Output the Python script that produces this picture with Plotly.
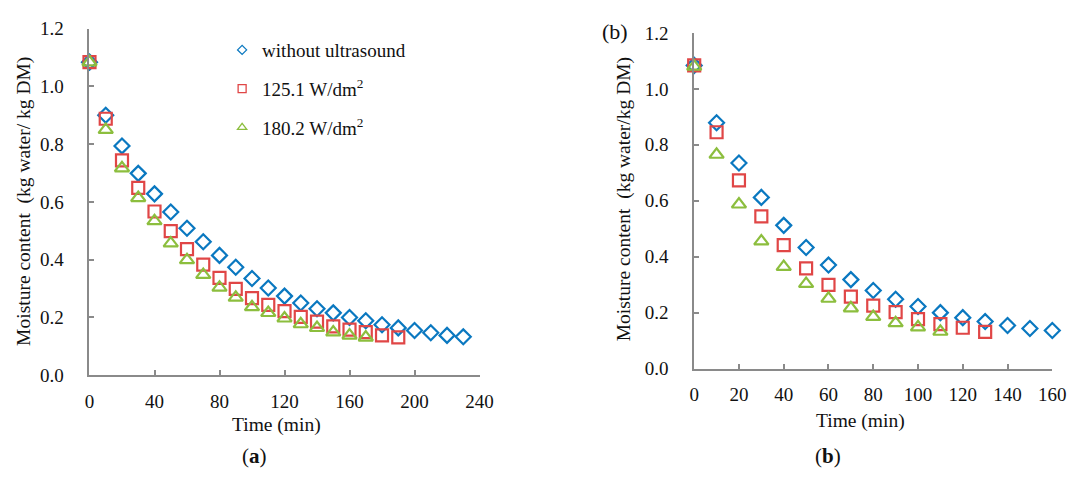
import plotly.graph_objects as go

W, H = 1083, 479

# ---- data (a) ----
t_a_blue = [0, 10, 20, 30, 40, 50, 60, 70, 80, 90, 100, 110, 120, 130, 140, 150, 160, 170, 180, 190, 200, 210, 220, 230]
mc_a_blue = [1.084, 0.900, 0.794, 0.699, 0.628, 0.565, 0.509, 0.462, 0.415, 0.374, 0.335, 0.302, 0.274, 0.250,
             0.230, 0.216, 0.200, 0.189, 0.175, 0.164, 0.155, 0.147, 0.138, 0.133]
t_a_red = [0, 10, 20, 30, 40, 50, 60, 70, 80, 90, 100, 110, 120, 130, 140, 150, 160, 170, 180, 190]
mc_a_red = [1.084, 0.888, 0.744, 0.649, 0.567, 0.499, 0.437, 0.383, 0.337, 0.299, 0.267, 0.244, 0.222, 0.202,
            0.186, 0.169, 0.158, 0.149, 0.138, 0.131]
t_a_green = [0, 10, 20, 30, 40, 50, 60, 70, 80, 90, 100, 110, 120, 130, 140, 150, 160, 170]
mc_a_green = [1.084, 0.850, 0.717, 0.614, 0.534, 0.457, 0.399, 0.348, 0.304, 0.269, 0.236, 0.216, 0.197, 0.177,
              0.164, 0.149, 0.138, 0.131]

# ---- data (b) ----
t_b_blue = [0, 10, 20, 30, 40, 50, 60, 70, 80, 90, 100, 110, 120, 130, 140, 150, 160]
mc_b_blue = [1.084, 0.879, 0.735, 0.612, 0.512, 0.433, 0.370, 0.318, 0.279, 0.248, 0.222, 0.200, 0.182, 0.168,
             0.154, 0.143, 0.136]
t_b_red = [0, 10, 20, 30, 40, 50, 60, 70, 80, 90, 100, 110, 120, 130]
mc_b_red = [1.084, 0.845, 0.673, 0.544, 0.441, 0.358, 0.299, 0.257, 0.225, 0.202, 0.177, 0.159, 0.146, 0.131]
t_b_green = [0, 10, 20, 30, 40, 50, 60, 70, 80, 90, 100, 110]
mc_b_green = [1.080, 0.765, 0.587, 0.455, 0.364, 0.303, 0.250, 0.216, 0.185, 0.163, 0.148, 0.132]

series_names = ["without ultrasound", "125.1 W/dm<sup>2</sup>", "180.2 W/dm<sup>2</sup>"]
y_ticks = [0.0, 0.2, 0.4, 0.6, 0.8, 1.0, 1.2]
x_ticks_a = [0, 40, 80, 120, 160, 200, 240]
x_ticks_b = [0, 20, 40, 60, 80, 100, 120, 140, 160]

BLUE = "#0a78c0"
RED = "#e04646"
GREEN = "#8cbe3e"
FONT = "Liberation Serif"
AXC = "#8a8a8a"
TXT = "#111111"

styles = [
    dict(symbol="diamond-open", size=11.5, color=BLUE),
    dict(symbol="square-open", size=12, color=RED),
    dict(symbol="triangle-up-open", size=12.5, color=GREEN),
]

fig = go.Figure()

panel_a = [(t_a_blue, mc_a_blue), (t_a_red, mc_a_red), (t_a_green, mc_a_green)]
panel_b = [(t_b_blue, mc_b_blue), (t_b_red, mc_b_red), (t_b_green, mc_b_green)]

for (xs, ys), st in zip(panel_a, styles):
    fig.add_trace(go.Scatter(x=xs, y=ys, mode="markers", xaxis="x", yaxis="y", showlegend=False,
                             cliponaxis=False,
                             marker=dict(symbol=st["symbol"], size=st["size"], color=st["color"],
                                         line=dict(color=st["color"], width=2.2))))
for (xs, ys), st in zip(panel_b, styles):
    fig.add_trace(go.Scatter(x=xs, y=ys, mode="markers", xaxis="x2", yaxis="y2", showlegend=False,
                             cliponaxis=False,
                             marker=dict(symbol=st["symbol"], size=st["size"], color=st["color"],
                                         line=dict(color=st["color"], width=2.2))))

# legend-only entries (small symbols, as in the reference)
leg_sizes = [7, 8, 8]
for i, (name, st) in enumerate(zip(series_names, styles)):
    fig.add_trace(go.Scatter(x=[None], y=[None], mode="markers", name=name, xaxis="x", yaxis="y",
                             legendgroup=f"g{i}", showlegend=True,
                             marker=dict(symbol=st["symbol"], size=leg_sizes[i], color=st["color"],
                                         line=dict(color=st["color"], width=1.3))))


def px_x(p):
    return p / W


def px_y(p):
    return 1 - p / H


axis_common = dict(showline=True, linecolor=AXC, linewidth=2, ticks="inside", ticklen=5,
                   tickcolor=AXC, tickwidth=1.5, showgrid=False, zeroline=False,
                   tickfont=dict(family=FONT, size=19, color=TXT))

fig.update_layout(
    width=W, height=H,
    margin=dict(l=0, r=0, t=0, b=0),
    paper_bgcolor="white", plot_bgcolor="white",
    xaxis=dict(domain=[px_x(86), px_x(483)], range=[0, 240], tickvals=x_ticks_a, anchor="y",
               ticklabelstandoff=8, **axis_common),
    yaxis=dict(domain=[px_y(382), px_y(19.5)], range=[0, 1.2], tickvals=y_ticks, tickformat=".1f",
               anchor="x", ticklabelstandoff=20, **axis_common),
    xaxis2=dict(domain=[px_x(701.5), px_x(1066)], range=[0, 160], tickvals=x_ticks_b, anchor="y2",
                ticklabelstandoff=8, **axis_common),
    yaxis2=dict(domain=[px_y(375), px_y(24)], range=[0, 1.2], tickvals=y_ticks, tickformat=".1f",
                anchor="x2", ticklabelstandoff=20, **axis_common),
    legend=dict(x=px_x(221), y=px_y(22), xanchor="left", yanchor="top",
                bgcolor="rgba(0,0,0,0)", font=dict(family=FONT, size=19, color=TXT),
                traceorder="grouped", tracegroupgap=11, itemwidth=30),
    showlegend=True,
)

ann_font = dict(family=FONT, size=19.5, color=TXT)
annotations = [
    dict(text="Moisture content&nbsp; (kg water/ kg DM)", x=px_x(20), y=px_y(200), textangle=-90, font=ann_font),
    dict(text="Moisture content&nbsp; (kg water/kg DM)", x=px_x(630), y=px_y(198), textangle=-90, font=ann_font),
    dict(text="Time (min)", x=px_x(276), y=px_y(434), font=ann_font),
    dict(text="Time (min)", x=px_x(871), y=px_y(430), font=ann_font),
    dict(text="(<b>a</b>)", x=px_x(254), y=px_y(466), font=dict(family=FONT, size=21, color=TXT)),
    dict(text="(<b>b</b>)", x=px_x(838), y=px_y(466), font=dict(family=FONT, size=21, color=TXT)),
    dict(text="(b)", x=px_x(621), y=px_y(23), font=dict(family=FONT, size=22, color=TXT)),
]
for a in annotations:
    a.update(xref="paper", yref="paper", showarrow=False, xanchor="center", yanchor="middle")
fig.update_layout(annotations=annotations)

fig.write_html("out.html")
